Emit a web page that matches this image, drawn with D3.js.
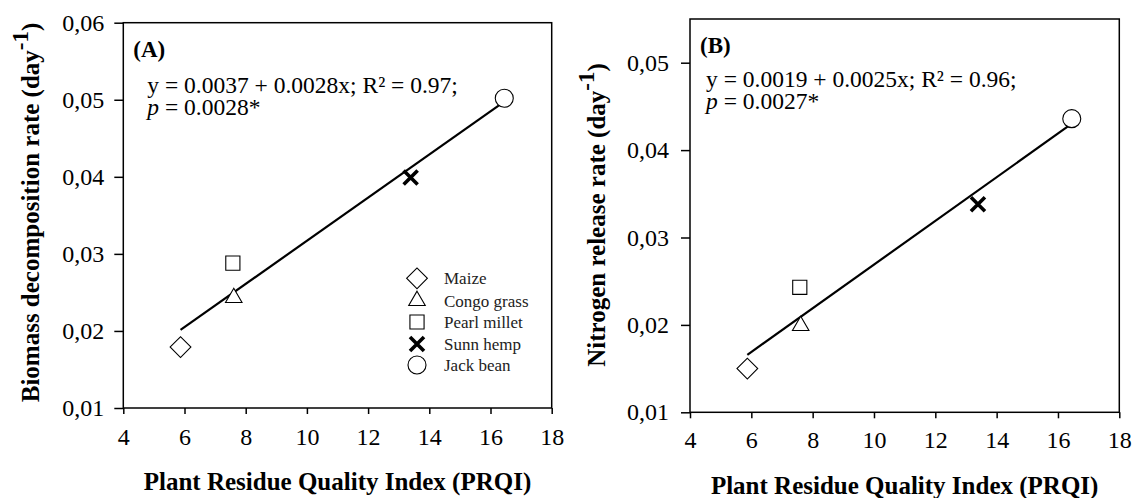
<!DOCTYPE html>
<html>
<head>
<meta charset="utf-8">
<script src="https://cdn.jsdelivr.net/npm/d3@7"></script>
<style>
  body { margin: 0; background: #fff; }
  svg text { font-family: "Liberation Serif", "Times New Roman", serif; fill: #000; }
</style>
</head>
<body>
<div id="chart"></div>
<script>
// crops and their values
const crops = ["Maize", "Congo grass", "Pearl millet", "Sunn hemp", "Jack bean"];
const shapes = ["diamond", "triangle", "square", "cross", "circle"];
const prqi = [5.87, 7.61, 7.58, 13.39, 16.45];
const biomassRate = [0.0179, 0.0243, 0.0288, 0.0399, 0.0502];
const nitrogenRate = [0.0150, 0.0199, 0.0243, 0.0338, 0.0436];

const xTicks = [4, 6, 8, 10, 12, 14, 16, 18];
const yTicksA = [0.01, 0.02, 0.03, 0.04, 0.05, 0.06];
const yTicksB = [0.01, 0.02, 0.03, 0.04, 0.05];

const fitA = { a: 0.0037, b: 0.0028 };
const fitB = { a: 0.0019, b: 0.0025 };
const eqA = ["y = 0.0037 + 0.0028x; R² = 0.97;", "0.0028*"];
const eqB = ["y = 0.0019 + 0.0025x; R² = 0.96;", "0.0027*"];

const commaFmt = d3.formatLocale({ decimal: ",", thousands: ".", grouping: [3], currency: ["", ""] }).format(".2f");

const svg = d3.select("#chart").append("svg")
    .attr("width", 1132)
    .attr("height", 498);

function marker(g, shape) {
    if (shape === "cross") {
        const r = 7;
        g.append("path")
            .attr("d", `M${-r},${-r}L${r},${r}M${-r},${r}L${r},${-r}`)
            .attr("stroke", "#000").attr("stroke-width", 3.6).attr("fill", "none");
        return;
    }
    const sym = d3.symbol();
    let rot = 0;
    if (shape === "diamond") { sym.type(d3.symbolSquare).size(215); rot = 45; }
    if (shape === "square") { sym.type(d3.symbolSquare).size(200); }
    if (shape === "triangle") { sym.type(d3.symbolTriangle).size(118); }
    if (shape === "circle") { sym.type(d3.symbolCircle).size(255); }
    g.append("path")
        .attr("d", sym())
        .attr("transform", `rotate(${rot})`)
        .attr("fill", "#fff").attr("stroke", "#000").attr("stroke-width", 1.1);
}

function drawPanel(p) {
    const x = d3.scaleLinear().domain([4, 18]).range([p.left, p.right]);
    const y = d3.scaleLinear().domain(p.yDomain).range([p.bottom, p.top]);

    // frame
    svg.append("rect")
        .attr("x", p.left).attr("y", p.top)
        .attr("width", p.right - p.left).attr("height", p.bottom - p.top)
        .attr("fill", "none").attr("stroke", "#000").attr("stroke-width", 1.5);

    const xAxis = svg.append("g")
        .attr("transform", `translate(0,${p.bottom})`)
        .call(d3.axisBottom(x).tickValues(xTicks).tickSize(6).tickPadding(p.xPad).tickSizeOuter(0));
    const yAxis = svg.append("g")
        .attr("transform", `translate(${p.left},0)`)
        .call(d3.axisLeft(y).tickValues(p.yTicks).tickFormat(commaFmt).tickSize(9).tickPadding(p.yPad).tickSizeOuter(0));
    [xAxis, yAxis].forEach(a => {
        a.select(".domain").remove();
        a.selectAll(".tick line").attr("stroke", "#000").attr("stroke-width", 1.5);
        a.selectAll(".tick text").attr("font-size", 24).attr("fill", "#000");
    });

    // regression line
    const x0 = d3.min(p.xs), x1 = d3.max(p.xs);
    svg.append("line")
        .attr("x1", x(x0)).attr("y1", y(p.fit.a + p.fit.b * x0))
        .attr("x2", x(x1)).attr("y2", y(p.fit.a + p.fit.b * x1))
        .attr("stroke", "#000").attr("stroke-width", 2.2);

    // points
    p.xs.forEach((v, i) => {
        const g = svg.append("g").attr("transform", `translate(${x(v)},${y(p.ys[i])})`);
        marker(g, shapes[i]);
    });

    // panel letter and equation
    svg.append("text").attr("x", p.left + 10).attr("y", p.letterY)
        .attr("font-size", 23).attr("font-weight", "bold").text(p.letter);
    svg.append("text").attr("x", p.left + p.eqDx).attr("y", p.eqY)
        .attr("font-size", 23.5).text(p.eq[0]);
    const t2 = svg.append("text").attr("x", p.left + p.eqDx).attr("y", p.eqY + 22).attr("font-size", 23.5);
    t2.append("tspan").attr("font-style", "italic").text("p");
    t2.append("tspan").text(" = " + p.eq[1]);

    // axis titles
    svg.append("text")
        .attr("x", (p.left + p.right) / 2).attr("y", p.xTitleY)
        .attr("text-anchor", "middle").attr("font-size", 25).attr("font-weight", "bold")
        .text("Plant Residue Quality Index (PRQI)");
    const yt = svg.append("text")
        .attr("transform", `translate(${p.yTitleX},${p.yTitleY}) rotate(-90)`)
        .attr("text-anchor", "middle").attr("font-size", 25).attr("font-weight", "bold");
    yt.append("tspan").text(p.yTitle + " (day");
    yt.append("tspan").attr("dy", -11).attr("font-size", 23).text("-1");
    yt.append("tspan").attr("dy", 11).text(")");

    return { x, y };
}

drawPanel({
    left: 123.3, right: 551.7, top: 22.7, bottom: 408,
    yDomain: [0.01, 0.06], yTicks: yTicksA,
    xPad: 14, yPad: 10,
    xs: prqi, ys: biomassRate, fit: fitA,
    letter: "(A)", letterY: 56.5, eq: eqA, eqDx: 24, eqY: 93,
    xTitleY: 490, yTitleX: 38.5, yTitleY: 212.5,
    yTitle: "Biomass decomposition rate"
});

drawPanel({
    left: 690, right: 1119.3, top: 19, bottom: 412.3,
    yDomain: [0.01, 0.055], yTicks: yTicksB,
    xPad: 12.5, yPad: 12,
    xs: prqi, ys: nitrogenRate, fit: fitB,
    letter: "(B)", letterY: 53.3, eq: eqB, eqDx: 16, eqY: 87,
    xTitleY: 494, yTitleX: 605, yTitleY: 215,
    yTitle: "Nitrogen release rate"
});

// legend (panel A)
const legendY = [278.3, 300.7, 322, 344, 365];
crops.forEach((c, i) => {
    const g = svg.append("g").attr("transform", `translate(417,${legendY[i]})`);
    marker(g, shapes[i]);
    svg.append("text").attr("x", 444).attr("y", legendY[i] + 6)
        .attr("font-size", 17).style("fill", "#222").text(c);
});
</script>
</body>
</html>
